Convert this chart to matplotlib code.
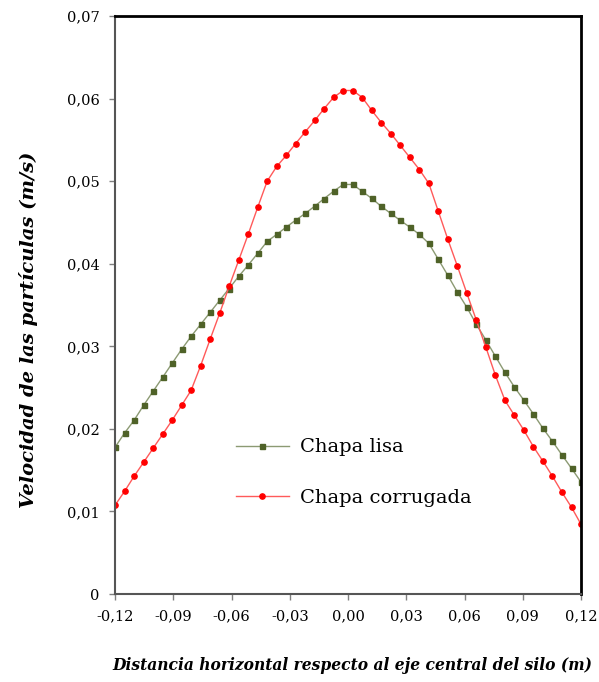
import numpy as np
import matplotlib
matplotlib.use('Agg')
import matplotlib.pyplot as plt
from matplotlib.ticker import FixedLocator

# horizontal positions (m), 50 equally spaced stations across the silo
distancia = np.linspace(-0.12, 0.12, 50)

chapa_lisa = [
    0.01776, 0.01949, 0.02103, 0.02284, 0.02454, 0.02623, 0.02793, 0.02962, 0.03120, 0.03265,
    0.03410, 0.03556, 0.03700, 0.03846, 0.03983, 0.04125, 0.04270, 0.04355, 0.04443, 0.04528,
    0.04609, 0.04697, 0.04790, 0.04879, 0.04960, 0.04960, 0.04875, 0.04791, 0.04694, 0.04609,
    0.04524, 0.04443, 0.04355, 0.04246, 0.04052, 0.03858, 0.03656, 0.03471, 0.03265, 0.03075,
    0.02878, 0.02684, 0.02506, 0.02345, 0.02179, 0.02006, 0.01849, 0.01683, 0.01522, 0.01356,
]

chapa_corrugada = [
    0.01074, 0.01243, 0.01425, 0.01594, 0.01764, 0.01933, 0.02103, 0.02284, 0.02466, 0.02764,
    0.03084, 0.03398, 0.03725, 0.04040, 0.04355, 0.04682, 0.05000, 0.05178, 0.05311, 0.05456,
    0.05597, 0.05735, 0.05880, 0.06017, 0.06098, 0.06098, 0.06013, 0.05856, 0.05710, 0.05577,
    0.05432, 0.05287, 0.05141, 0.04972, 0.04633, 0.04294, 0.03971, 0.03640, 0.03314, 0.02987,
    0.02648, 0.02345, 0.02163, 0.01982, 0.01783, 0.01607, 0.01425, 0.01231, 0.01050, 0.00844,
]

x_ticks = [-0.12, -0.09, -0.06, -0.03, 0.0, 0.03, 0.06, 0.09, 0.12]
x_labels = ['-0,12', '-0,09', '-0,06', '-0,03', '0,00', '0,03', '0,06', '0,09', '0,12']
y_ticks = [0, 0.01, 0.02, 0.03, 0.04, 0.05, 0.06, 0.07]
y_labels = ['0', '0,01', '0,02', '0,03', '0,04', '0,05', '0,06', '0,07']

serif = ['DejaVu Serif']

fig = plt.figure(figsize=(5.99, 6.82), dpi=100)
ax = fig.add_axes([0.192, 0.129, 0.778, 0.8475])

ax.plot(distancia, chapa_lisa, color='#8c9a73', lw=1.0, marker='s', ms=3.6,
        mfc='#4f6228', mec='#4f6228', label='Chapa lisa')
ax.plot(distancia, chapa_corrugada, color='#ff5a5a', lw=1.0, marker='o', ms=3.8,
        mfc='#ff0000', mec='#ff0000', label='Chapa corrugada')

ax.set_xlim(-0.12, 0.12)
ax.set_ylim(0, 0.07)
ax.xaxis.set_major_locator(FixedLocator(x_ticks))
ax.yaxis.set_major_locator(FixedLocator(y_ticks))
ax.set_xticklabels(x_labels, fontfamily=serif, fontsize=10.5)
ax.set_yticklabels(y_labels, fontfamily=serif, fontsize=10.5)
ax.tick_params(direction='out', length=4, width=1, color='#808080')
ax.tick_params(axis='x', pad=7)
ax.tick_params(axis='y', pad=7)

for side in ['top', 'right']:
    ax.spines[side].set_color('black')
    ax.spines[side].set_linewidth(2)
for side in ['left', 'bottom']:
    ax.spines[side].set_color('#555555')
    ax.spines[side].set_linewidth(1.5)

leg = ax.legend(loc='center left', bbox_to_anchor=(0.238, 0.21), frameon=False,
                prop={'family': serif, 'size': 14}, handlelength=2.75,
                handletextpad=0.55, labelspacing=1.68, borderpad=0)

fig.text(0.047, 0.516, 'Velocidad de las partículas (m/s)', rotation=90,
         ha='center', va='center', fontfamily=serif, fontsize=14,
         fontweight='bold', fontstyle='italic')
fig.text(0.5885, 0.024, 'Distancia horizontal respecto al eje central del silo (m)',
         ha='center', va='center', fontfamily=serif, fontsize=11.2,
         fontweight='bold', fontstyle='italic')

fig.savefig('out.png', dpi=100)
